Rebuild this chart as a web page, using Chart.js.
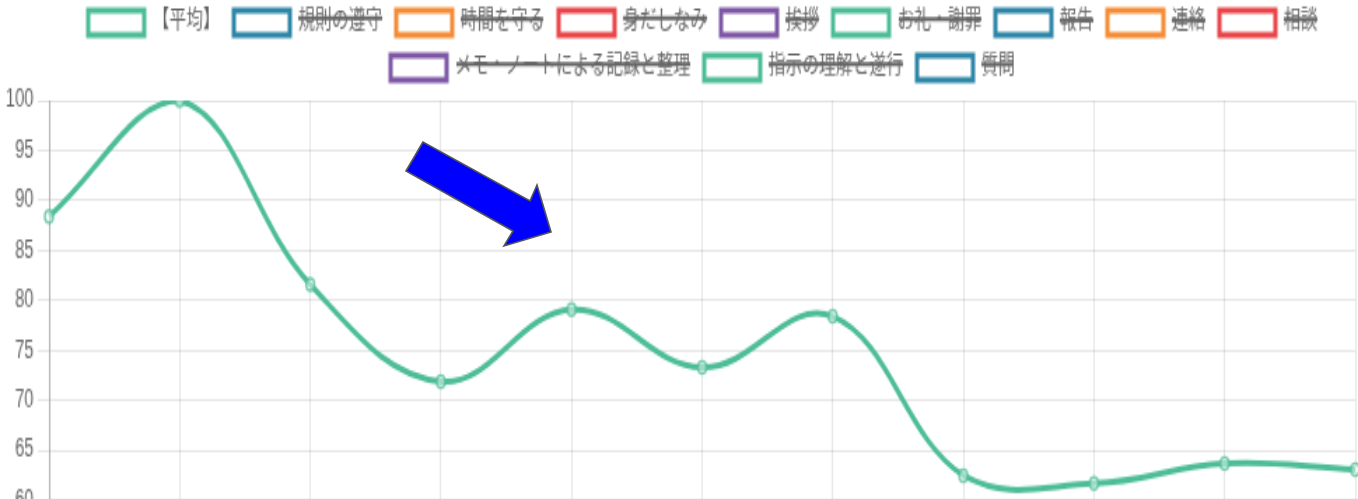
<!DOCTYPE html>
<html>
<head>
<meta charset="utf-8">
<script src="https://cdn.jsdelivr.net/npm/chart.js@4/dist/chart.umd.min.js"></script>
<style>
  html, body { margin: 0; padding: 0; width: 1358px; height: 499px; overflow: hidden; background: #fff; }
  #wrap { position: absolute; left: 0; top: -9.7px; transform: scale(1.4, 2.045); transform-origin: 0 0; }
  #arrow { position: absolute; left: 0; top: 0; }
</style>
</head>
<body>
<div id="wrap"><canvas id="c" width="1004" height="278" style="width:1004px;height:278px"></canvas></div>
<svg id="arrow" width="1358" height="499" viewBox="0 0 1358 499">
  <polygon points="423,142 406,171 513,231 504,246 551,232 537,185 530,201"
           fill="#0000ff" stroke="#555" stroke-width="1.6" stroke-linejoin="miter"/>
</svg>
<script>
// ---- data ----
const categories = ['1回目', '2回目', '3回目', '4回目', '5回目', '6回目', '7回目', '8回目', '9回目', '10回目', '11回目'];
const averageValues = [88.4, 100, 81.6, 71.9, 79.1, 73.3, 78.4, 62.5, 61.7, 63.7, 63.1];
const seriesNames = ['【平均】', '規則の遵守', '時間を守る', '身だしなみ', '挨拶', 'お礼・謝罪', '報告', '連絡', '相談', 'メモ・ノートによる記録と整理', '指示の理解と遂行', '質問'];
const seriesColors = ['#4dbd98', '#2e86a8', '#f68c35', '#ea4549', '#7e58a6', '#4dbd98', '#2e86a8', '#f68c35', '#ea4549', '#7e58a6', '#4dbd98', '#2e86a8'];
const yTicks = { min: 60, max: 100, step: 5 };

Chart.defaults.font.family = "'Liberation Sans', Arial, 'Noto Sans CJK JP', sans-serif";
Chart.defaults.font.size = 12;
Chart.defaults.color = '#666';

const datasets = seriesNames.map((name, i) => ({
  label: name,
  data: i === 0 ? averageValues : [],
  hidden: i !== 0,
  borderColor: seriesColors[i],
  backgroundColor: '#ffffff',
  borderWidth: 3,
  tension: 0.4,
  fill: false,
  pointRadius: 3,
  pointBorderWidth: 1.5,
  pointBorderColor: 'rgba(77,189,152,0.75)',
  pointBackgroundColor: 'rgba(255,255,255,0.45)'
}));

const chart = new Chart(document.getElementById('c'), {
  type: 'line',
  data: { labels: categories, datasets },
  options: {
    responsive: false,
    devicePixelRatio: 1,
    animation: false,
    layout: { padding: 0 },
    plugins: {
      legend: { display: true, position: 'top', labels: { boxWidth: 40, padding: 10 } },
      tooltip: { enabled: false }
    },
    scales: {
      x: {
        grid: { color: 'rgba(0,0,0,0.1)' },
        border: { color: 'rgba(0,0,0,0.25)' },
        afterFit: (scale) => { scale.paddingRight = 36; }
      },
      y: {
        min: yTicks.min, max: yTicks.max,
        ticks: { stepSize: yTicks.step },
        grid: { color: 'rgba(0,0,0,0.1)' },
        border: { color: 'rgba(0,0,0,0.25)' },
        afterFit: (scale) => { scale.width = 35; }
      }
    }
  }
});
</script>
</body>
</html>
